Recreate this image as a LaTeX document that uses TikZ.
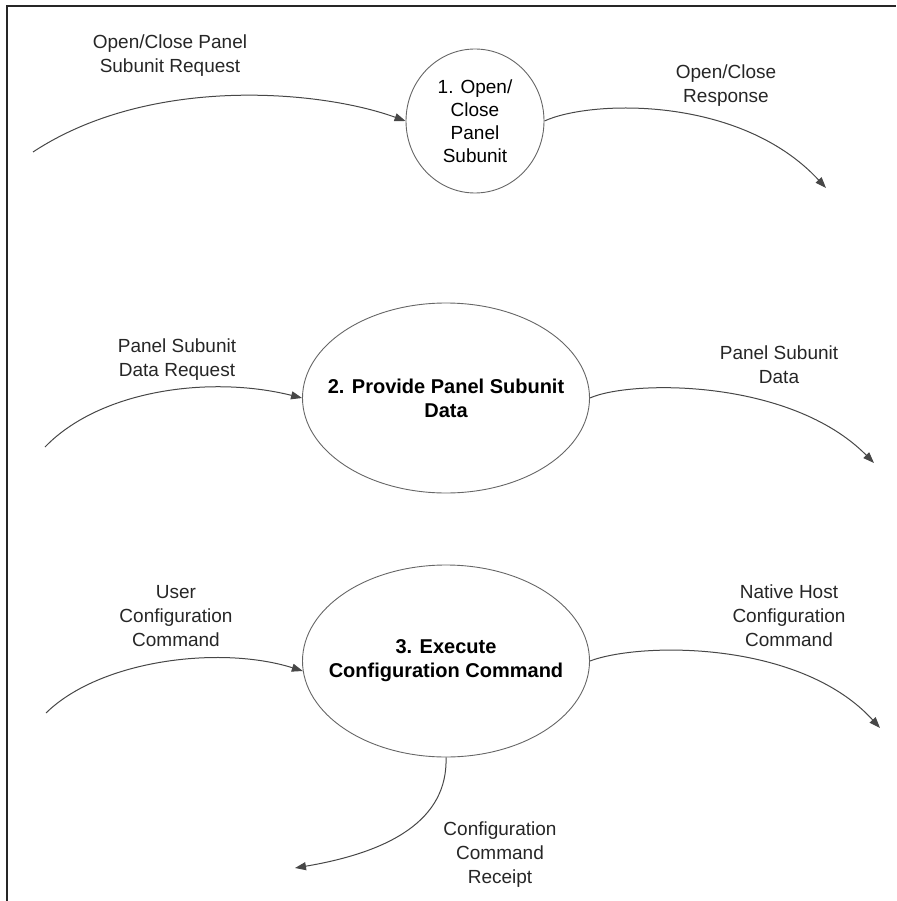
\documentclass[tikz,border=0pt]{standalone}
\usepackage{fontspec}
\setmainfont{Liberation Sans}
\usetikzlibrary{shapes.geometric,arrows.meta}
\tikzset{
  proc/.style={ellipse, draw=black!60, line width=0.9pt, inner sep=0pt, align=center, font=\fontsize{19}{23}\selectfont},
  proctext/.style={align=center, inner sep=0pt, font=\bfseries\fontsize{20}{24}\selectfont},
  lbl/.style={align=center, font=\fontsize{19}{24}\selectfont, text=black!85},
  flow/.style={draw=black!72, line width=1pt, -{Triangle[length=11pt,width=8pt]}},
}
\begin{document}
\begin{tikzpicture}[x=1pt,y=-1pt]
\useasboundingbox (0,0) rectangle (896,901);
\draw[line width=2pt, black!85] (7,901) -- (7,6) -- (896,6);

\node[proc, minimum width=138pt, minimum height=144pt] (c1) at (475,121) {1. Open/\\Close\\Panel\\Subunit};
\node[proc, minimum width=287pt, minimum height=190pt] (c2) at (446,398) {};
\node[proctext] (t2) at (c2.center) {2. Provide Panel Subunit\\Data};
\node[proc, minimum width=287pt, minimum height=192pt] (c3) at (446,661) {};
\node[proctext] (t3) at (c3.center) {3. Execute\\Configuration Command};

\coordinate (s1) at (33,152);
\coordinate (e2) at (826,188);
\coordinate (s3) at (45,447);
\coordinate (e4) at (874,463);
\coordinate (s5) at (46,713);
\coordinate (e6) at (880,728);
\coordinate (e7) at (295,868);

\draw[flow] (s1) .. controls (150,75) and (320,90) .. (c1.180);
\draw[flow] (c1.0) .. controls (590,100) and (740,95) .. (e2);
\draw[flow] (s3) .. controls (100,390) and (210,375) .. (c2.180);
\draw[flow] (c2.0) .. controls (630,380) and (790,378) .. (e4);
\draw[flow] (s5) .. controls (100,660) and (220,645) .. (c3.184);
\draw[flow] (c3.0) .. controls (640,642) and (800,640) .. (e6);
\draw[flow] (c3.south) .. controls (448,820) and (390,852) .. (e7);

\node[lbl] (l1) at (170,56) {Open/Close Panel\\Subunit Request};
\node[lbl] (l2) at (726,86) {Open/Close\\Response};
\node[lbl] (l3) at (177,360) {Panel Subunit\\Data Request};
\node[lbl] (l4) at (779,365) {Panel Subunit\\Data};
\node[lbl] (l5) at (176,616) {User\\Configuration\\Command};
\node[lbl] (l6) at (789,616) {Native Host\\Configuration\\Command};
\node[lbl] (l7) at (500,855) {Configuration\\Command\\Receipt};
\end{tikzpicture}
\end{document}
